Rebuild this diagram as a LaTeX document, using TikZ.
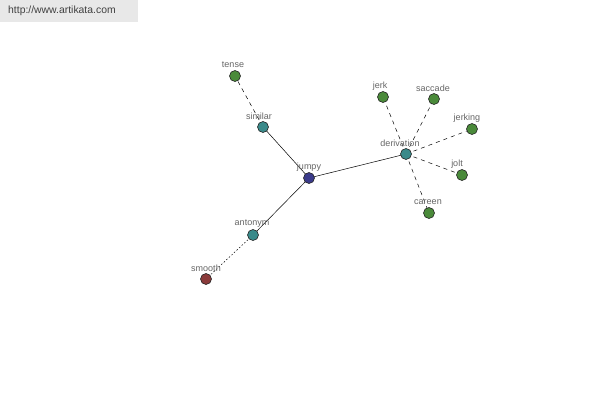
\documentclass[tikz,border=0pt]{standalone}
\usepackage{fontspec}
\setmainfont{Liberation Sans}
\begin{document}
\begin{tikzpicture}[x=1pt,y=-1pt,
  vtx/.style={circle,draw=black!85,line width=0.6pt,minimum size=11pt,inner sep=0pt},
  lbl/.style={font=\fontsize{9}{10}\selectfont,text=black!60,inner sep=0pt},
  dashedge/.style={draw=black,line width=0.5pt,dash pattern=on 4pt off 4pt},
  dotedge/.style={draw=black,line width=0.5pt,dash pattern=on 1.5pt off 2pt},
  solidedge/.style={draw=black,line width=0.5pt}]
\useasboundingbox (0,0) rectangle (600,400);
\fill[white] (0,0) rectangle (600,400);
\fill[black!9] (0,0) rectangle (138,22);
\node[font=\fontsize{10.4}{12}\selectfont,text=black!75,anchor=west,inner sep=0pt] (wm) at (8,11) {http://www.artikata.com};
\definecolor{gr}{RGB}{74,138,58}
\definecolor{tl}{RGB}{58,138,138}
\definecolor{bl}{RGB}{58,58,138}
\definecolor{rd}{RGB}{138,58,58}
% edges drawn first (behind nodes)
\coordinate (ctense) at (235,76);
\coordinate (csimilar) at (263,127);
\coordinate (cjumpy) at (309,178);
\coordinate (cantonym) at (253,235);
\coordinate (csmooth) at (206,279);
\coordinate (cderivation) at (406,154);
\coordinate (cjerk) at (383,97);
\coordinate (csaccade) at (434,99);
\coordinate (cjerking) at (472,129);
\coordinate (cjolt) at (462,175);
\coordinate (ccareen) at (429,213);
\draw[solidedge] (cjumpy) -- (csimilar);
\draw[solidedge] (cjumpy) -- (cantonym);
\draw[solidedge] (cjumpy) -- (cderivation);
\draw[dashedge] (csimilar) -- (ctense);
\draw[dotedge] (cantonym) -- (csmooth);
\draw[dashedge] (cderivation) -- (cjerk);
\draw[dashedge] (cderivation) -- (csaccade);
\draw[dashedge] (cderivation) -- (cjerking);
\draw[dashedge] (cderivation) -- (cjolt);
\draw[dashedge] (cderivation) -- (ccareen);
% nodes
\node[vtx,fill=gr] (tense) at (ctense) {};
\node[vtx,fill=tl] (similar) at (csimilar) {};
\node[vtx,fill=bl] (jumpy) at (cjumpy) {};
\node[vtx,fill=tl] (antonym) at (cantonym) {};
\node[vtx,fill=rd] (smooth) at (csmooth) {};
\node[vtx,fill=tl] (derivation) at (cderivation) {};
\node[vtx,fill=gr] (jerk) at (cjerk) {};
\node[vtx,fill=gr] (saccade) at (csaccade) {};
\node[vtx,fill=gr] (jerking) at (cjerking) {};
\node[vtx,fill=gr] (jolt) at (cjolt) {};
\node[vtx,fill=gr] (careen) at (ccareen) {};
% labels
\node[lbl] (ltense) at (233,65) {tense};
\node[lbl] (lsimilar) at (259,116) {similar};
\node[lbl] (ljumpy) at (309,167) {jumpy};
\node[lbl] (lantonym) at (252,224) {antonym};
\node[lbl] (lsmooth) at (206,268) {smooth};
\node[lbl] (lderivation) at (400,143) {derivation};
\node[lbl] (ljerk) at (380,86) {jerk};
\node[lbl] (lsaccade) at (433,88) {saccade};
\node[lbl] (ljerking) at (467,118) {jerking};
\node[lbl] (ljolt) at (457,164) {jolt};
\node[lbl] (lcareen) at (428,202) {careen};
\end{tikzpicture}
\end{document}
